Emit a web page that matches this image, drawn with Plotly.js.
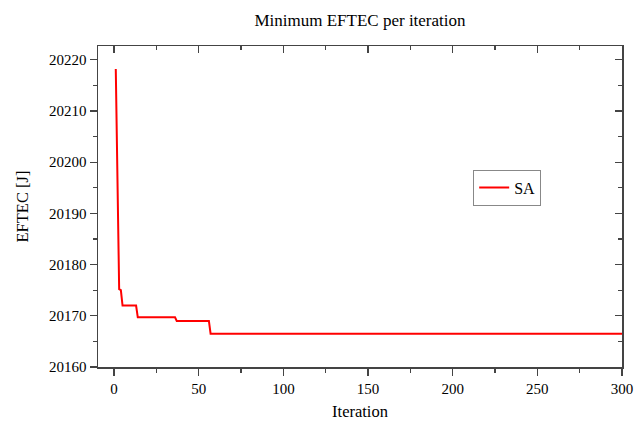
<!DOCTYPE html>
<html>
<head>
<meta charset="utf-8">
<script src="https://cdn.plot.ly/plotly-3.0.1.min.js"></script>
<style>html,body{margin:0;padding:0;background:#fff;}#chart{width:635px;height:421px;}</style>
</head>
<body>
<div id="chart"></div>
<script>
// Iteration breakpoints and minimum EFTEC values (line connects them)
var iterations = [1, 3, 4, 5, 13, 14, 36, 37, 56, 57, 300];
var eftec = [20218.2, 20175.2, 20175.0, 20172.0, 20172.0, 20169.7, 20169.7, 20169.0, 20169.0, 20166.5, 20166.5];
var seriesName = 'SA';
var xTicks = [0, 50, 100, 150, 200, 250, 300];
var yTicks = [20160, 20170, 20180, 20190, 20200, 20210, 20220];

var font = {family: '"Liberation Serif", "Times New Roman", serif', color: '#000'};
var axCol = '#444';

var data = [{
  x: iterations, y: eftec, type: 'scatter', mode: 'lines', name: seriesName,
  line: {color: '#ff0000', width: 2}
}];

var layout = {
  width: 635, height: 421,
  margin: {l: 98, r: 13, t: 46, b: 54},
  paper_bgcolor: '#fff', plot_bgcolor: '#fff',
  font: Object.assign({}, font, {size: 15}),
  title: {text: 'Minimum EFTEC per iteration', x: 0.5, xref: 'paper', y: 0.952, yanchor: 'middle',
          font: Object.assign({}, font, {size: 17})},
  showlegend: true,
  legend: {x: 0.716, y: 0.615, xanchor: 'left', yanchor: 'top', bgcolor: '#fff',
           bordercolor: '#888', borderwidth: 1, font: Object.assign({}, font, {size: 16}),
           tracegroupgap: 0},
  xaxis: {
    range: [-9.5, 300], tickvals: xTicks,
    ticks: 'outside', ticklen: 7, tickwidth: 1.3, tickcolor: axCol,
    minor: {dtick: 25, tick0: 0, ticks: 'outside', ticklen: 4, tickwidth: 1.3, tickcolor: axCol},
    showline: true, linecolor: axCol, linewidth: 1.5, showgrid: false, zeroline: false,
    tickfont: Object.assign({}, font, {size: 15}),
    title: {text: 'Iteration', font: Object.assign({}, font, {size: 16.5}), standoff: 12}
  },
  yaxis: {
    range: [20160, 20222.7], tickvals: yTicks, tickformat: 'd',
    ticks: 'outside', ticklen: 7, tickwidth: 1.3, tickcolor: axCol,
    minor: {dtick: 5, tick0: 20160, ticks: 'outside', ticklen: 4, tickwidth: 1.3, tickcolor: axCol},
    showline: true, linecolor: axCol, linewidth: 1.5, showgrid: false, zeroline: false,
    tickfont: Object.assign({}, font, {size: 15}),
    title: {text: 'EFTEC [J]', font: Object.assign({}, font, {size: 16.5}), standoff: 16}
  },
  xaxis2: {
    overlaying: 'x', matches: 'x', side: 'top', range: [-9.5, 300],
    tickvals: xTicks, showticklabels: false,
    ticks: 'inside', ticklen: 7, tickwidth: 1.3, tickcolor: axCol,
    minor: {dtick: 25, tick0: 0, ticks: 'inside', ticklen: 4, tickwidth: 1.3, tickcolor: axCol},
    showline: true, linecolor: axCol, linewidth: 1.5, showgrid: false, zeroline: false
  },
  yaxis2: {
    overlaying: 'y', matches: 'y', side: 'right', range: [20160, 20222.7],
    tickvals: yTicks, showticklabels: false,
    ticks: 'inside', ticklen: 7, tickwidth: 1.3, tickcolor: axCol,
    minor: {dtick: 5, tick0: 20160, ticks: 'inside', ticklen: 4, tickwidth: 1.3, tickcolor: axCol},
    showline: true, linecolor: axCol, linewidth: 1.5, showgrid: false, zeroline: false
  }
};

// invisible trace to activate the mirror axes
data.push({x: [iterations[0]], y: [eftec[0]], xaxis: 'x2', yaxis: 'y2', type: 'scatter', mode: 'lines',
           showlegend: false, hoverinfo: 'skip', line: {color: 'rgba(0,0,0,0)'}});

Plotly.newPlot('chart', data, layout, {displayModeBar: false, staticPlot: true});
</script>
</body>
</html>
